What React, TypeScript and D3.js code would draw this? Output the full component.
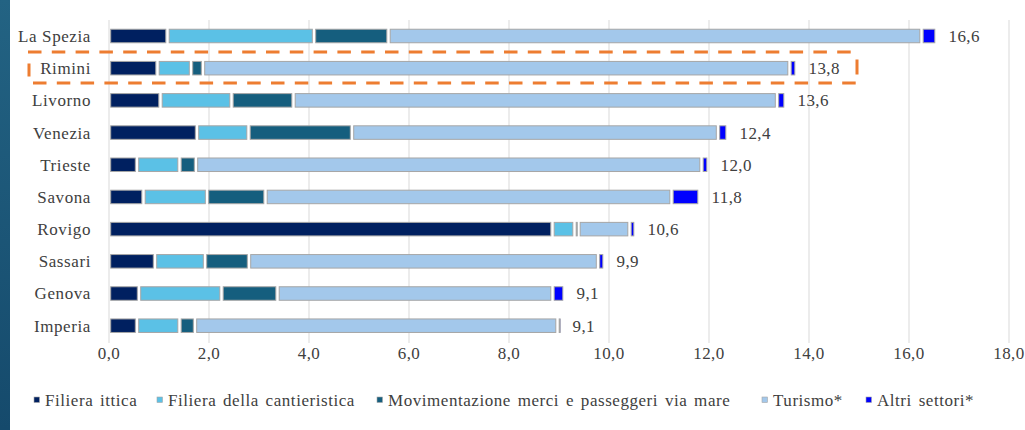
import React from "react";
import * as d3 from "d3";

const categories = ["La Spezia", "Rimini", "Livorno", "Venezia", "Trieste", "Savona", "Rovigo", "Sassari", "Genova", "Imperia"];
const filieraIttica = [1.17, 0.97, 1.03, 1.76, 0.56, 0.69, 8.87, 0.92, 0.60, 0.56];
const filieraCantieristica = [2.93, 0.67, 1.42, 1.03, 0.85, 1.27, 0.44, 1.00, 1.65, 0.85];
const movimentazione = [1.49, 0.24, 1.24, 2.07, 0.33, 1.17, 0.08, 0.88, 1.12, 0.31];
const turismo = [10.66, 11.73, 9.67, 7.32, 10.11, 8.12, 1.02, 6.98, 5.50, 7.25];
const altriSettori = [0.30, 0.14, 0.17, 0.19, 0.14, 0.56, 0.12, 0.13, 0.24, 0.06];
const totalLabels = ["16,6", "13,8", "13,6", "12,4", "12,0", "11,8", "10,6", "9,9", "9,1", "9,1"];
const seriesNames = ["Filiera ittica", "Filiera della cantieristica", "Movimentazione merci e passeggeri via mare", "Turismo*", "Altri settori*"];
const xTicks = [0, 2, 4, 6, 8, 10, 12, 14, 16, 18];
const highlighted = "Rimini";

const seriesColors = ["#002060", "#5BC1E6", "#155E7E", "#A3C8EB", "#0000FF"];
const legendX = [34, 157, 377, 762, 866];

const W = 1025;
const H = 430;
const FONT = "'Liberation Serif', 'Times New Roman', serif";
const TEXT = "#404040";

export default function App() {
  const series = [filieraIttica, filieraCantieristica, movimentazione, turismo, altriSettori];
  const x = d3.scaleLinear().domain([0, 18]).range([109, 1009]);
  const y = d3.scaleBand<string>().domain(categories).range([19.9, 341.8]).paddingInner(0.58).paddingOuter(0.29);

  const rows = categories.map((c, i) => ({ cat: c, ...Object.fromEntries(series.map((s, k) => [String(k), s[i]])) }));
  const stack = d3.stack<any>().keys(series.map((_, k) => String(k)))(rows);

  const fmt = (v: number) => v.toFixed(1).replace(".", ",");
  const bh = y.bandwidth();

  const hy = y(highlighted)!;
  const boxTop = hy - 9.5;
  const boxBot = hy + bh + 8;
  const boxL = 28;
  const boxR = x(15) - 2;

  return (
    <svg width={W} height={H} style={{ position: "absolute", left: 0, top: 0, background: "#fff" }} fontFamily={FONT}>
      <defs>
        <linearGradient id="strip" x1="0" y1="0" x2="0" y2="1">
          <stop offset="0" stopColor="#236383" />
          <stop offset="1" stopColor="#154a6c" />
        </linearGradient>
      </defs>
      <rect x={0} y={0} width={10} height={H} fill="url(#strip)" />

      {xTicks.map((t) => (
        <g key={t}>
          <line x1={x(t)} x2={x(t)} y1={20} y2={343} stroke="#d9d9d9" strokeWidth={1} />
          <text x={x(t)} y={359} textAnchor="middle" fontSize={17} fill={TEXT} letterSpacing={0.4}>{fmt(t)}</text>
        </g>
      ))}

      {stack.map((layer, k) => (
        <g key={k}>
          {layer.map((d, i) => {
            const x0 = x(d[0]) + 1.7;
            const w = Math.max(1, x(d[1]) - x(d[0]) - 3.4);
            return (
              <rect key={i} x={x0} y={y(categories[i])!} width={w} height={bh}
                fill={seriesColors[k]} stroke="#a6a6a6" strokeWidth={1} />
            );
          })}
        </g>
      ))}

      {categories.map((c, i) => {
        const total = series.reduce((a, s) => a + s[i], 0);
        const cy = y(c)! + bh / 2;
        return (
          <g key={c}>
            <text x={91} y={cy} dy="0.35em" textAnchor="end" fontSize={17} fill={TEXT} letterSpacing={0.6}>{c}</text>
            <text x={x(total) + 12} y={cy} dy="0.35em" textAnchor="start" fontSize={17} fill={TEXT} letterSpacing={0.4}>{totalLabels[i]}</text>
          </g>
        );
      })}

      <g stroke="#ED7D31" strokeWidth={3} fill="none">
        <line x1={boxL} x2={boxR} y1={boxTop} y2={boxTop} strokeDasharray="13.5 10.3" />
        <line x1={boxL + 5} x2={boxR + 1} y1={boxBot} y2={boxBot} strokeDasharray="13.5 10.3" />
        <line x1={boxL + 1} x2={boxL + 1} y1={boxTop} y2={boxBot} strokeDasharray="0 11.5 13 30" />
        <line x1={boxR} x2={boxR} y1={boxTop} y2={boxBot} strokeDasharray="0 7.5 15 30" />
      </g>

      {seriesNames.map((n, k) => (
        <g key={n}>
          <rect x={legendX[k]} y={397} width={5.5} height={5.5} fill={seriesColors[k]} stroke="#a6a6a6" strokeWidth={0.6} />
          <text x={legendX[k] + 11} y={400} dy="0.35em" fontSize={17} fill={TEXT} letterSpacing={0.55} wordSpacing={2}>{n}</text>
        </g>
      ))}
    </svg>
  );
}
